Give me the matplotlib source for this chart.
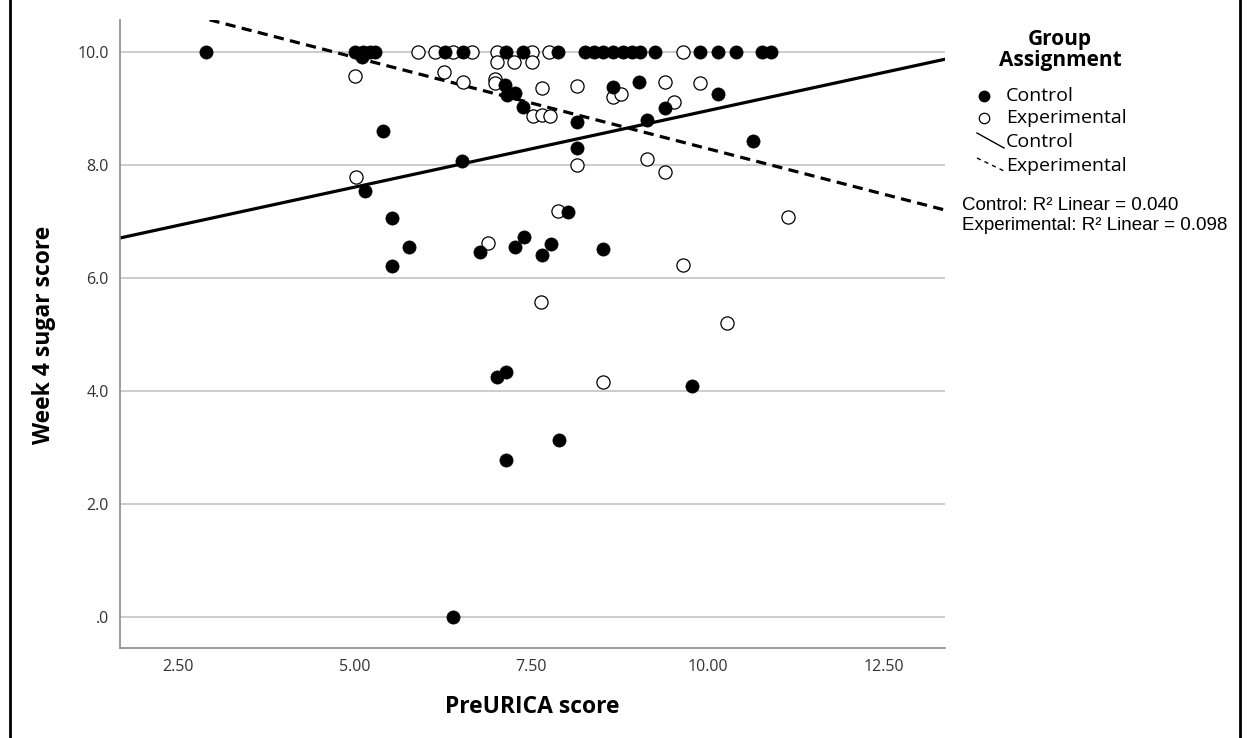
import matplotlib
matplotlib.use("Agg")
import matplotlib.pyplot as plt
from matplotlib.lines import Line2D
import numpy as np

# ---- data ----
control_x = [2.90, 5.01, 5.12, 5.22, 5.29, 5.11, 6.28, 6.54, 7.15, 7.39, 7.88,
             8.26, 8.39, 8.52, 8.66, 8.80, 8.93, 9.04, 9.26, 9.89, 10.15, 10.40,
             10.77, 10.90, 7.13, 7.16, 7.27, 7.39, 8.15, 8.66, 9.03, 9.40, 10.15,
             9.14, 10.64, 5.40, 8.15, 6.52, 5.15, 5.53, 5.77, 5.53, 6.78, 7.27,
             7.40, 7.66, 7.78, 8.02, 8.52, 7.02, 7.15, 9.78, 7.90, 7.15, 6.40]
control_y = [10.0, 10.0, 10.0, 10.0, 10.0, 9.92, 10.0, 10.0, 10.0, 10.0, 10.0,
             10.0, 10.0, 10.0, 10.0, 10.0, 10.0, 10.0, 10.0, 10.0, 10.0, 10.0,
             10.0, 10.0, 9.42, 9.24, 9.27, 9.03, 8.76, 9.38, 9.47, 9.01, 9.26,
             8.80, 8.42, 8.60, 8.30, 8.07, 7.54, 7.06, 6.55, 6.21, 6.46, 6.55,
             6.73, 6.41, 6.60, 7.17, 6.51, 4.25, 4.34, 4.09, 3.13, 2.78, 0.0]

exper_x = [5.01, 5.02, 5.90, 6.14, 6.40, 6.66, 6.27, 6.54, 7.02, 7.02, 7.26,
           7.51, 7.51, 7.76, 6.99, 6.99, 7.53, 7.66, 7.77, 7.66, 8.15, 8.66,
           8.77, 9.40, 9.53, 9.65, 9.89, 8.15, 9.14, 9.40, 7.88, 6.89, 7.64,
           9.65, 10.28, 11.14, 8.52]
exper_y = [9.58, 7.79, 10.0, 10.0, 10.0, 10.0, 9.65, 9.47, 10.0, 9.82, 9.82,
           10.0, 9.82, 10.0, 9.52, 9.45, 8.87, 8.88, 8.87, 9.36, 9.40, 9.20,
           9.26, 9.47, 9.12, 10.0, 9.45, 8.00, 8.11, 7.88, 7.19, 6.62, 5.58,
           6.23, 5.20, 7.08, 4.16]

# fitted lines (intercept, slope) as shown in the reference
control_fit = (6.255, 0.271)
exper_fit = (11.527, -0.3235)

xticks = [2.5, 5.0, 7.5, 10.0, 12.5]
xtick_labels = ["2.50", "5.00", "7.50", "10.00", "12.50"]
yticks = [0, 2, 4, 6, 8, 10]
ytick_labels = [".0", "2.0", "4.0", "6.0", "8.0", "10.0"]

W, H = 1248, 738
fig = plt.figure(figsize=(W / 100, H / 100), dpi=100)


def fx(px):
    return px / W


def fy(py):
    return 1 - py / H


ax = fig.add_axes([fx(120), fy(648), fx(945) - fx(120), fy(20) - fy(648)])
xlim = (1.68, 13.36)
ylim = (-0.55, 10.57)
ax.set_xlim(*xlim)
ax.set_ylim(*ylim)

ax.set_yticks(yticks)
ax.set_yticklabels(ytick_labels)
ax.set_xticks(xticks)
ax.set_xticklabels(xtick_labels)
ax.tick_params(length=0, labelsize=11.5, pad=8, colors="#333333")
for lab in ax.get_xticklabels() + ax.get_yticklabels():
    lab.set_family("Open Sans")

ax.yaxis.grid(True, color="#c4c4c4", lw=1.2)
ax.set_axisbelow(True)
for s in ["top", "right"]:
    ax.spines[s].set_visible(False)
for s in ["left", "bottom"]:
    ax.spines[s].set_color("#8a8a8a")
    ax.spines[s].set_linewidth(1.2)

xs = np.array(xlim)
ax.plot(xs, control_fit[0] + control_fit[1] * xs, color="black", lw=2.3, zorder=2)
ax.plot(xs, exper_fit[0] + exper_fit[1] * xs, color="black", lw=2.3,
        dashes=(3.2, 2.0), zorder=2)

ax.scatter(exper_x, exper_y, s=90, facecolor="white", edgecolor="black",
           linewidth=0.9, zorder=3, clip_on=False)
ax.scatter(control_x, control_y, s=90, facecolor="black", edgecolor="black",
           linewidth=0.5, zorder=4, clip_on=False)

ax.set_xlabel("PreURICA score", fontsize=16.5, fontweight="bold",
              family="Open Sans")
ax.set_ylabel("Week 4 sugar score", fontsize=16.5, fontweight="bold",
              family="Open Sans")
ax.xaxis.set_label_coords((532 - 120) / 825, (648 - 695) / 628)
ax.yaxis.set_label_coords((56 - 120) / 825, (648 - 335) / 628)

# ---- legend (drawn manually, SPSS style) ----
fig.text(fx(1060), fy(50), "Group\nAssignment", ha="center", va="center",
         fontsize=15, fontweight="bold", family="Open Sans", linespacing=0.95)
rows = [96, 118, 142, 166]
labels = ["Control", "Experimental", "Control", "Experimental"]
for r, lab in zip(rows, labels):
    fig.text(fx(1006), fy(r), lab, ha="left", va="center", fontsize=14,
             family="Open Sans")
fig.add_artist(Line2D([fx(984)], [fy(rows[0])], marker="o", markersize=7.5,
                      markerfacecolor="black", markeredgecolor="black",
                      transform=fig.transFigure))
fig.add_artist(Line2D([fx(984)], [fy(rows[1])], marker="o", markersize=7.5,
                      markerfacecolor="white", markeredgecolor="black",
                      markeredgewidth=0.9, transform=fig.transFigure))
fig.add_artist(Line2D([fx(977), fx(1004)], [fy(133), fy(148)], color="black",
                      lw=1.0, transform=fig.transFigure))
fig.add_artist(Line2D([fx(977), fx(1004)], [fy(158), fy(171)], color="black",
                      lw=1.0, dashes=(3, 3), transform=fig.transFigure))

fig.text(fx(962), fy(205), "Control: R² Linear = 0.040", ha="left",
         va="center", fontsize=13.5, family="Liberation Sans")
fig.text(fx(962), fy(225), "Experimental: R² Linear = 0.098", ha="left",
         va="center", fontsize=13.5, family="Liberation Sans")

# outer frame lines
fig.add_artist(Line2D([fx(10), fx(10)], [0, 1], color="black", lw=2,
                      transform=fig.transFigure))
fig.add_artist(Line2D([fx(1240), fx(1240)], [0, 1], color="black", lw=2,
                      transform=fig.transFigure))

fig.savefig("out.png", dpi=100)
